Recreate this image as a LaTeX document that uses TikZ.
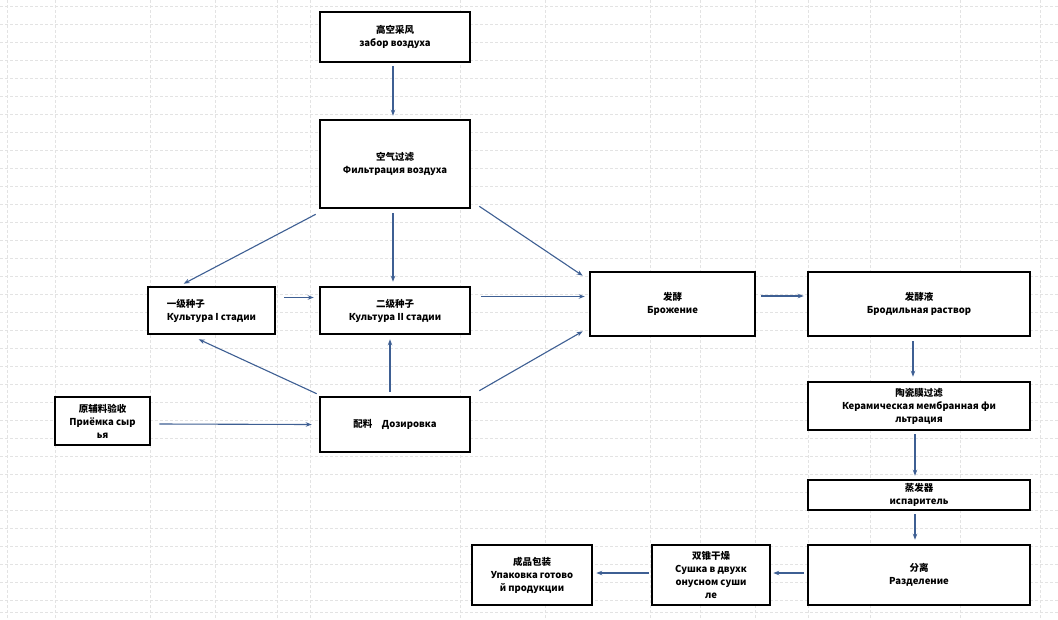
\documentclass[tikz,border=0pt]{standalone}
\usepackage{fontspec}
\setmainfont{Noto Sans CJK SC}
\usetikzlibrary{calc,arrows.meta}
\definecolor{flow}{HTML}{3E5F93}
\tikzset{
  stepbox/.style={draw=black, line width=2.6pt, fill=white, align=center,
    inner sep=2pt, font=\fontsize{9.5}{13}\selectfont\bfseries},
  flowarrow/.style={draw=flow, line width=1.1pt, -{Stealth[length=6pt,width=4.5pt]}},
  sheetgrid/.style={draw=gray!22, line width=0.5pt, densely dashed}
}
\begin{document}
\begin{tikzpicture}[x=1pt,y=-1pt]
\useasboundingbox[fill=white] (0,0) rectangle (1058,619);
% spreadsheet cell lines
\foreach \gx in {7,55,150,215,277,310,460,545,650,700,755,808,870,960,1040}
  \draw[sheetgrid] (\gx,0) -- (\gx,619);
\foreach \gy in {6,24,42,60,78,96,114,132,150,168,186,204,222,240,258,276,294,312,330,348,366,384,402,420,438,456,474,492,510,528,546,564,582,600,612}
  \draw[sheetgrid] (0,\gy) -- (1058,\gy);

% process steps
\node[stepbox, minimum width=150pt, minimum height=50pt] (air) at (395,37) {高空采风\\забор воздуха};
\node[stepbox, minimum width=150pt, minimum height=88pt] (filt) at (395,164) {空气过滤\\Фильтрация воздуха};
\node[stepbox, minimum width=127pt, minimum height=47pt, inner sep=1pt, align=left] (cone) at (211.5,310.5) {一级种子\\Культура I стадии};
\node[stepbox, minimum width=150pt, minimum height=47pt] (ctwo) at (395,310.5) {二级种子\\Культура II стадии};
\node[stepbox, minimum width=95pt, minimum height=48pt, inner sep=1pt] (raw) at (102.5,421) {原辅料验收\\Приёмка сыр\\ья};
\node[stepbox, minimum width=150pt, minimum height=55pt] (dos) at (395,424.5) {配料\quad Дозировка};
\node[stepbox, minimum width=165pt, minimum height=64pt] (ferm) at (672.5,304) {发酵\\Брожение};
\node[stepbox, minimum width=222pt, minimum height=64pt] (broth) at (919,304) {发酵液\\Бродильная раствор};
\node[stepbox, minimum width=222pt, minimum height=48pt, inner sep=1pt] (cer) at (919,406) {陶瓷膜过滤\\Керамическая мембранная фи\\льтрация};
\node[stepbox, minimum width=222pt, minimum height=30pt, inner sep=1pt] (evap) at (919,495) {蒸发器\\испаритель};
\node[stepbox, minimum width=222pt, minimum height=60pt] (sep) at (919,575) {分离\\Разделение};
\node[stepbox, minimum width=118pt, minimum height=60pt, inner sep=1pt] (dry) at (711,575) {双锥干燥\\Сушка в двухк\\онусном суши\\ле};
\node[stepbox, minimum width=120pt, minimum height=60pt, inner sep=1pt] (pack) at (532,575) {成品包装\\Упаковка готово\\й продукции};

% connectors
\draw[flowarrow] ($(air.south)+(-2,3)$) -- ($(filt.north)+(-2,-3)$);
\draw[flowarrow] ($(filt.south west)+(-3,5)$) -- ($(cone.north west)+(37,-2)$);
\draw[flowarrow] ($(filt.south)+(-2,4)$) -- ($(ctwo.north)+(-2,-4)$);
\draw[flowarrow] ($(filt.south east)+(8,-3)$) -- ($(ferm.north west)+(-6,5)$);
\draw[flowarrow] ($(cone.east)+(8,-13)$) -- ($(ctwo.west)+(-5,-13)$);
\draw[flowarrow] ($(ctwo.east)+(10,-14)$) -- ($(ferm.west)+(-4,-7.5)$);
\draw[flowarrow] ($(dos.north west)+(-2,-2)$) -- ($(cone.south west)+(52,4)$);
\draw[flowarrow] ($(dos.north)+(-5,-4)$) -- ($(ctwo.south)+(-5,4)$);
\draw[flowarrow] ($(dos.north east)+(8,-5)$) -- ($(ferm.south west)+(-6,-6)$);
\draw[flowarrow] ($(raw.east)+(8,3)$) -- ($(dos.west)+(-7,0)$);
\draw[flowarrow] ($(ferm.east)+(5,-8)$) -- ($(broth.west)+(-3,-8)$);
\draw[flowarrow] ($(broth.south)+(-6,4)$) -- ($(cer.north)+(-6,-4)$);
\draw[flowarrow] ($(cer.south)+(-4,3)$) -- ($(evap.north)+(-4,-3)$);
\draw[flowarrow] ($(evap.south)+(-4,3)$) -- ($(sep.north)+(-4,-4)$);
\draw[flowarrow] ($(sep.west)+(-3,-2)$) -- ($(dry.east)+(2,-2)$);
\draw[flowarrow] ($(dry.west)+(-2,-2)$) -- ($(pack.east)+(3,-2)$);
\end{tikzpicture}
\end{document}
